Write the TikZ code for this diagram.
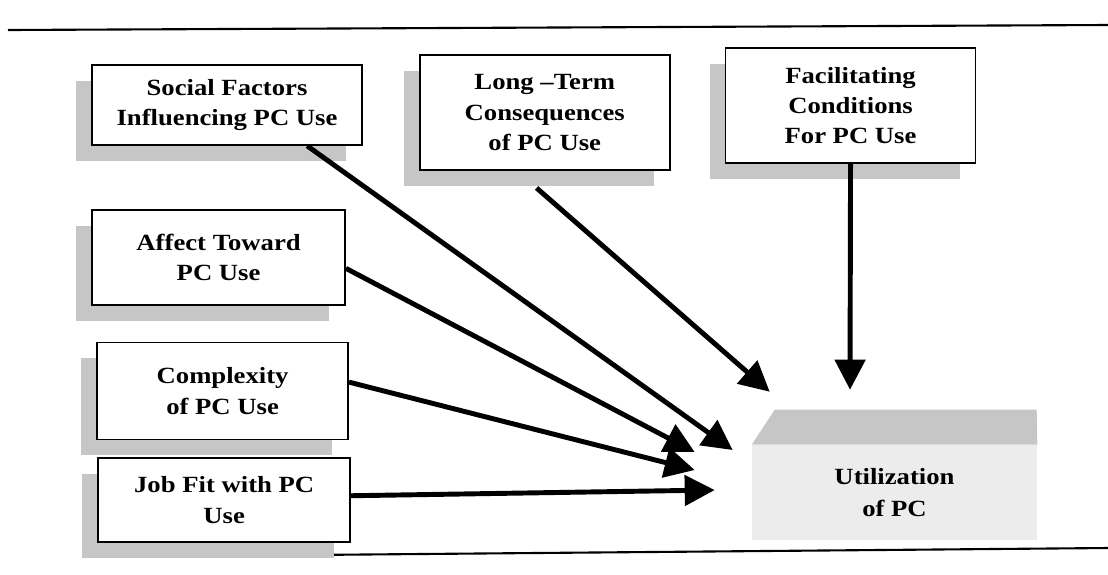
\documentclass[tikz,border=0pt]{standalone}
\usepackage{fontspec}
\setmainfont{Liberation Serif}[FakeStretch=1.15]
\usetikzlibrary{positioning, shadows, arrows.meta}

\begin{document}
\begin{tikzpicture}[
        x=0.025cm, y=-0.025cm,
        factor_node/.style={rectangle, draw=black, line width=1.2pt, fill=white, inner sep=0pt, align=center,
            font=\bfseries\fontsize{16.5}{21.5}\selectfont,
            drop shadow={shadow xshift=-0.4cm, shadow yshift=-0.4cm, fill=gray!45, opacity=1}},
        outcome_node/.style={rectangle, fill=gray!15, inner sep=0pt, align=center, minimum width=7.125cm, minimum height=2.375cm,
            font=\bfseries\fontsize{16.5}{23}\selectfont},
        link_arrow/.style={black, line width=3.5pt, -{Triangle[length=0.75cm, width=0.75cm]}},
        ]
            \useasboundingbox (0,0) rectangle (1108,574);

            % rules
            \draw[line width=1.5pt] (8,30) -- (1108,25);
            \draw[line width=1.5pt] (307,555) -- (1108,548);

            % factors
            \node[factor_node, minimum width=6.75cm, minimum height=2cm]      (social)   at (227,105)                         {Social Factors\\Influencing PC Use};
            \node[factor_node, minimum width=6.25cm, minimum height=2.875cm]  (long)     [right=14mm of social, yshift=-1.9mm]   {Long --Term\\Consequences\\of PC Use};
            \node[factor_node, minimum width=6.25cm, minimum height=2.875cm]  (facil)    [right=13.5mm of long, yshift=1.75mm]   {Facilitating\\Conditions\\For PC Use};
            \node[factor_node, minimum width=6.325cm, minimum height=2.375cm] (affect)   [below=15.75mm of social, xshift=-2.1mm] {Affect Toward\\PC Use};
            \node[factor_node, minimum width=6.275cm, minimum height=2.425cm] (complex)  [below=9mm of affect, xshift=1mm]       {Complexity\\of PC Use};
            \node[factor_node, minimum width=6.3cm, minimum height=2.1cm]     (jobfit)   [below=4.25mm of complex, xshift=0.4mm] {Job Fit with PC\\Use};

            % outcome
            \node[outcome_node] (util) at (894.5,492.5) {Utilization\\of PC};
            \fill[gray!45] (util.north west) -- ++(23,-35) -- ++(262,0) -- (util.north east) -- cycle;

            % links
            \draw[link_arrow] (social.-27)                      -- ([shift={(-19,-42.5)}]util.west);
            \draw[link_arrow] ([yshift=-0.425cm]long.-98)       -- ([shift={(18,-53)}]util.north west);
            \draw[link_arrow] (facil.south)                     -- ([shift={(-44.5,-55)}]util.north);
            \draw[link_arrow] (affect.-5)                       -- ([shift={(-57,-40.5)}]util.west);
            \draw[link_arrow] (complex.4)                       -- ([shift={(-57,-22.5)}]util.west);
            \draw[link_arrow] (jobfit.2)                        -- ([shift={(-37,-2.5)}]util.west);

        \end{tikzpicture}
\end{document}
